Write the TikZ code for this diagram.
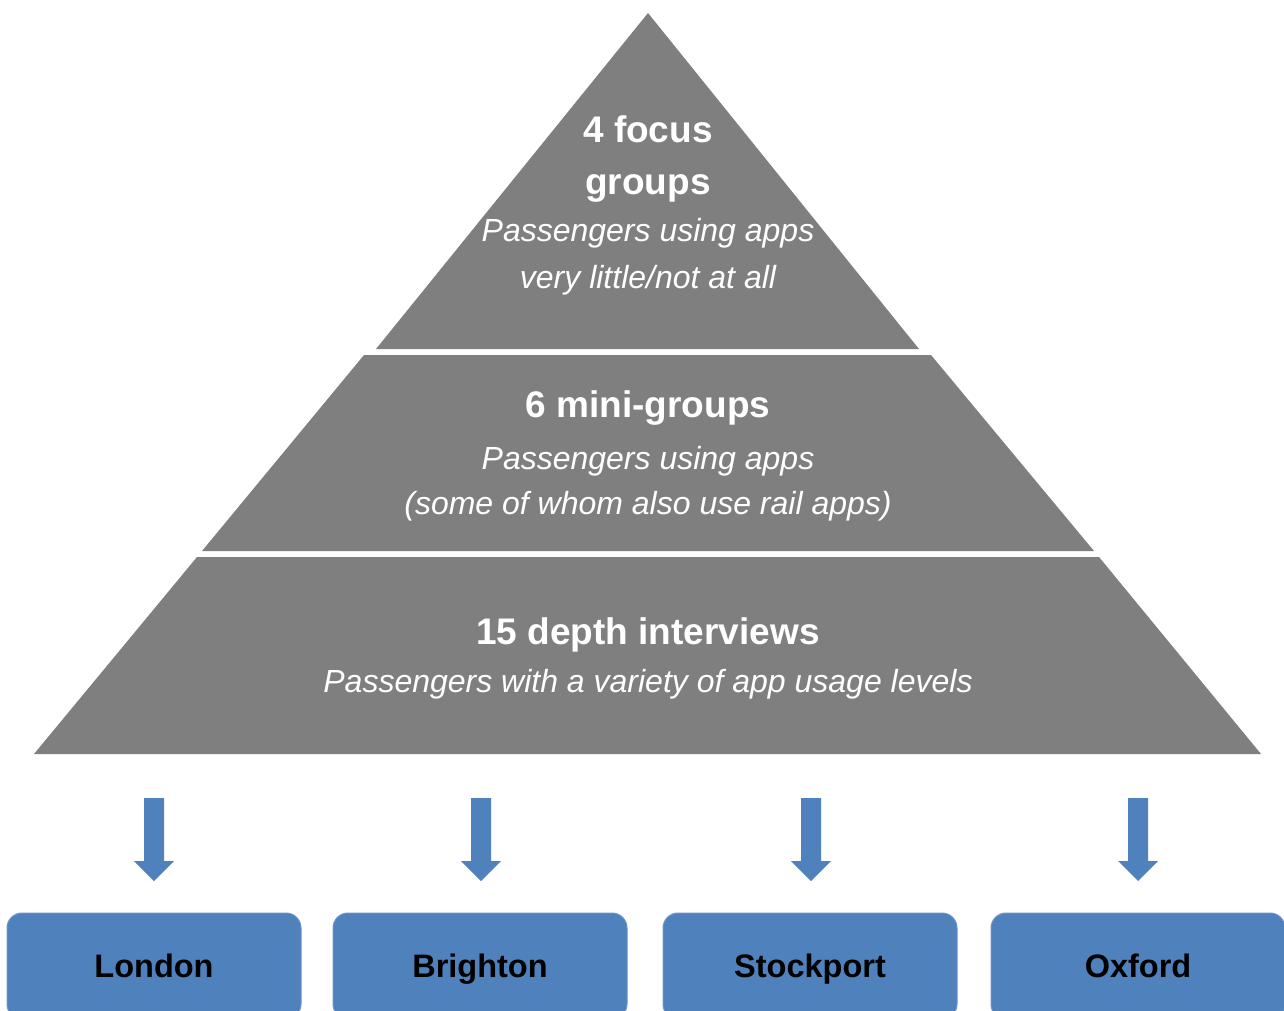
\documentclass[tikz,border=0pt]{standalone}
\usepackage{fontspec}
\setmainfont{Liberation Sans}
\definecolor{pyrgray}{HTML}{7F7F7F}
\definecolor{cityblue}{HTML}{4F81BD}
\begin{document}
\begin{tikzpicture}[x=1pt,y=-1pt,
  layer/.style={fill=pyrgray, draw=none},
  headline/.style={font=\fontsize{37}{44}\selectfont\bfseries, text=white, anchor=base, inner sep=0pt},
  subline/.style={font=\fontsize{32}{38}\selectfont\itshape, text=white, anchor=base, inner sep=0pt},
  citybox/.style={fill=cityblue, draw=cityblue!85!white, line width=1pt, rounded corners=15pt,
    minimum width=294pt, minimum height=106pt, inner sep=0pt,
    text height=23pt, text depth=0pt,
    font=\fontsize{32.5}{38}\selectfont\bfseries, text=black},
  blockarrow/.style={fill=cityblue, draw=none}
]
\useasboundingbox (0,0) rectangle (1284,1010);
\clip (0,0) rectangle (1284,1010);

% pyramid layers
\fill[layer] (648,13) -- (919,349) -- (376,349) -- cycle;
\fill[layer] (364,355) -- (931,355) -- (1094,551) -- (202,551) -- cycle;
\fill[layer] (197,557) -- (1099,557) -- (1261,754) -- (34,754) -- cycle;

% texts
\node[headline] (t1a) at (648,142) {4 focus};
\node[headline] (t1b) at (648,194) {groups};
\node[subline] (t1c) at (648,241) {Passengers using apps};
\node[subline] (t1d) at (648,288) {very little/not at all};

\node[headline] (t2a) at (648,417) {6 mini-groups};
\node[subline] (t2b) at (648,469) {Passengers using apps};
\node[subline] (t2c) at (648,514) {(some of whom also use rail apps)};

\node[headline] (t3a) at (648,644) {15 depth interviews};
\node[subline] (t3b) at (648,692) {Passengers with a variety of app usage levels};

% city boxes
\node[citybox] (london) at (154,966) {London};
\node[citybox] (brighton) at (480,966) {Brighton};
\node[citybox] (stockport) at (810,966) {Stockport};
\node[citybox] (oxford) at (1138,966) {Oxford};

% block arrows
\foreach \c/\n in {154/a1,481/a2,811/a3,1138/a4}{
  \coordinate (\n) at (\c,798);
  \fill[blockarrow] (\c-10,798) -- (\c+10,798) -- (\c+10,861) -- (\c+20,861)
     -- (\c,881) -- (\c-20,861) -- (\c-10,861) -- cycle;
}
\end{tikzpicture}
\end{document}
